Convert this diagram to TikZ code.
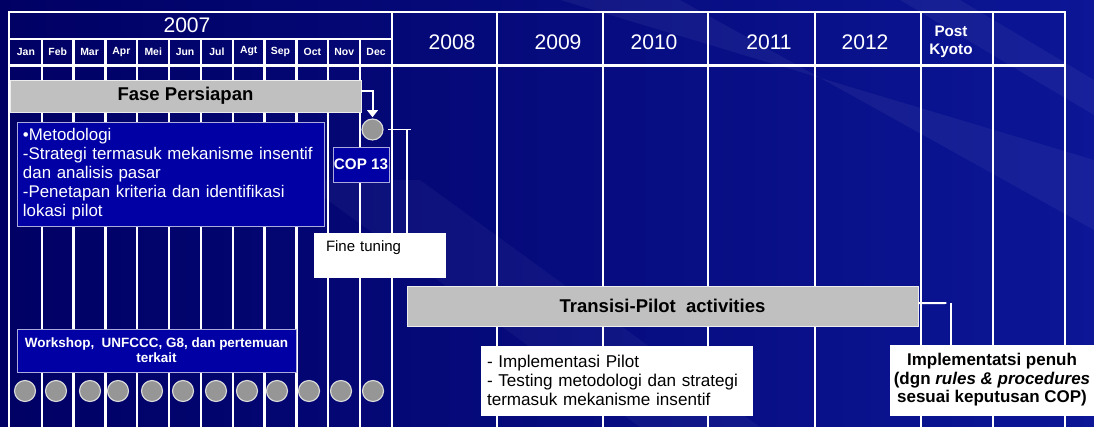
\documentclass[tikz,border=0pt]{standalone}
\usepackage{fontspec}
\setmainfont{Liberation Sans}
\usetikzlibrary{arrows.meta}

\definecolor{bgdark}{RGB}{0,0,100}
\definecolor{bglight}{RGB}{12,22,150}
\definecolor{boxblue}{RGB}{0,0,165}
\definecolor{boxedge}{RGB}{170,170,220}
\definecolor{boxgrey}{RGB}{192,192,192}
\definecolor{dotgrey}{RGB}{150,150,150}

\begin{document}
\begin{tikzpicture}[x=0.03cm,y=-0.03cm]
    \begin{scope}[
        gridline/.style={white,line width=2pt},
        month/.style={text=white,font=\bfseries\fontsize{8.9}{10}\selectfont},
        yearlabel/.style={text=white,font=\fontsize{18}{20}\selectfont},
        greybox/.style={draw=white!70!boxgrey,fill=boxgrey,inner sep=0pt,line width=0.8pt,font=\bfseries\fontsize{15.8}{18}\selectfont},
        bluebox/.style={draw=boxedge,fill=boxblue,inner sep=0pt,line width=0.8pt,text=white},
        whitebox/.style={draw=white,fill=white,inner sep=0pt},
        event/.style={circle,draw=white!85!black,fill=dotgrey,line width=1pt,minimum size=0.63cm,inner sep=0pt},
        link/.style={white,line width=1.7pt},
        linkarrow/.style={link,-{Triangle[width=9pt,length=6pt]}}
    ]
    % Background with a few light streaks
    \useasboundingbox (0,0) rectangle (1094,427);
    \shade[left color=bgdark,right color=bglight] (0,0) rectangle (1094,427);
    \fill[white,opacity=0.05] (560,0) -- (680,0) -- (1094,230) -- (1094,160) -- cycle;
    \fill[white,opacity=0.04] (300,180) -- (420,180) -- (760,427) -- (640,427) -- cycle;
    \fill[white,opacity=0.05] (900,0) -- (960,0) -- (1094,80) -- (1094,115) -- cycle;

    % Table: frame, header rows and columns
    \draw[gridline,line width=2.4pt] (9,12) rectangle (1065,440);
    \draw[gridline] (10,39) -- (392,39);
    \draw[gridline,line width=3.4pt] (9,65.5) -- (1065,65.5);
    \foreach \i in {1,...,11}
        \draw[gridline] ({10+31.83*\i},39) -- ({10+31.83*\i},440);
    \foreach \xx in {392,497,603,708,815,921,993}
        \draw[gridline] (\xx,12) -- (\xx,440);

    % Header labels
    \node[yearlabel] (y2007) at (187,25.5) {2007};
    \foreach \m [count=\i] in {Jan,Feb,Mar,Apr,Mei,Jun,Jul,Agt,Sep,Oct,Nov,Dec}
        \node[month] (m\i) at ({10+31.83*(\i-0.5)},51.5) {\m};
    \foreach \yr/\xx in {2008/452,2009/558,2010/654,2011/769,2012/865}
        \node[yearlabel] (y\yr) at (\xx,42) {\yr};
    \node[text=white,align=center,font=\bfseries\fontsize{13}{15.4}\selectfont] (postkyoto) at (951,42) {Post\\Kyoto};

    % Activities
    \node[greybox,minimum width=10.53cm,minimum height=0.96cm] (fase) at (185.5,96) {Fase Persiapan};
    \node[event] (cop) at (372.5,129.5) {};
    \node[bluebox,minimum width=1.68cm,minimum height=1.05cm,font=\bfseries\fontsize{13}{15}\selectfont] (cop13) at (361,164.5) {COP 13};
    \node[bluebox,minimum width=9.21cm,minimum height=3.12cm,text width=8.85cm,align=left,font=\fontsize{14.4}{16.2}\selectfont] (metode) at (170.5,174)
        {•Metodologi\\-Strategi termasuk mekanisme insentif\\dan analisis pasar\\-Penetapan kriteria dan identifikasi\\lokasi pilot};
    \node[whitebox,minimum width=3.93cm,minimum height=1.32cm,text width=3.21cm,align=left,font=\fontsize{12.8}{15}\selectfont] (fine) at (379.5,255) {Fine tuning\\\mbox{}};
    \node[greybox,minimum width=15.33cm,minimum height=1.2cm] (transisi) at (662.5,306) {Transisi-Pilot\ \ activities};
    \node[whitebox,minimum width=8.13cm,minimum height=2.07cm,text width=7.77cm,align=left,font=\fontsize{14.6}{16.2}\selectfont] (pilot) at (616.5,380.5)
        {- Implementasi Pilot\\- Testing metodologi dan strategi\\termasuk mekanisme insentif};
    \node[whitebox,minimum width=6.12cm,minimum height=2.1cm,align=center,font=\bfseries\fontsize{14.5}{15.8}\selectfont] (penuh) at (992,380)
        {Implementatsi penuh\\(dgn \textit{rules \& procedures}\\sesuai keputusan COP)};
    \node[bluebox,minimum width=8.37cm,minimum height=1.29cm,align=center,font=\bfseries\fontsize{11.5}{12.8}\selectfont] (workshop) at (156.5,350.5)
        {Workshop,\ \ UNFCCC, G8, dan pertemuan\\terkait};

    % Meetings, one per month
    \foreach \xx [count=\i] in {25,56,90,118,152,183,216,247,277,309,341,373}
        \node[event] (meet\i) at (\xx,391) {};

    % Connectors
    \draw[linkarrow,shorten >=1pt] ([yshift=4.3pt]fase.east) -| (cop.north);
    \coordinate (finejoint) at (407,129.5);
    \draw[link] ([xshift=4pt]cop.east) -- ([xshift=3pt]finejoint);
    \draw[link] (finejoint) -- (finejoint |- fine.north);
    \coordinate (penuhjoint) at (951,303);
    \draw[link] ([yshift=2.5pt]transisi.east) -- ([xshift=-4pt]penuhjoint);
    \draw[link] (penuhjoint) -- (penuhjoint |- penuh.north);
    \end{scope}
\end{tikzpicture}
\end{document}
